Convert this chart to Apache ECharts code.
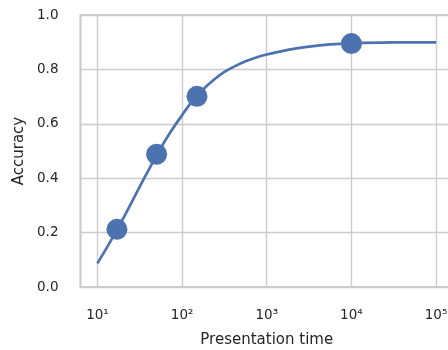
<!DOCTYPE html>
<html>
<head>
<meta charset="utf-8">
<script src="https://cdn.jsdelivr.net/npm/echarts@6/dist/echarts.min.js"></script>
<style>
html,body{margin:0;padding:0;background:#fff;}
#chart{width:448px;height:350px;}
</style>
</head>
<body>
<div id="chart"></div>
<script>
// Measured points
const timePoints = [17, 50, 150, 10000];
const accPoints = [0.212, 0.488, 0.701, 0.895];
// Fitted curve
const curveTime = [10, 13.34, 17.78, 23.71, 31.62, 42.17, 56.23, 74.99, 100, 133.4, 177.8, 237.1, 316.2, 421.7, 562.3, 749.9, 1000, 1778, 3162, 5623, 10000, 31623, 100000];
const curveAcc = [0.087, 0.152, 0.221, 0.294, 0.369, 0.442, 0.512, 0.575, 0.632, 0.685, 0.727, 0.762, 0.791, 0.812, 0.830, 0.844, 0.855, 0.872, 0.884, 0.892, 0.896, 0.899, 0.8995];
// Axis ticks
const yTicks = [0, 0.2, 0.4, 0.6, 0.8, 1.0];
const xTickExps = [1, 2, 3, 4, 5];
const xTitle = 'Presentation time';
const yTitle = 'Accuracy';

const sup = {'1':'\u00b9','2':'\u00b2','3':'\u00b3','4':'\u2074','5':'\u2075'};
const font = 'DejaVu Sans';
const color = '#4c72b0';
const textColor = '#262626';

const chart = echarts.init(document.getElementById('chart'), null, {renderer:'canvas'});
chart.setOption({
  animation: false,
  backgroundColor: '#ffffff',
  grid: {left: 80.5, width: 372.5, top: 15, bottom: 63, show: true, borderColor: '#cccccc', borderWidth: 2,
    containLabel: false, outerBoundsMode: 'none'},
  xAxis: {
    type: 'log', logBase: 10, min: 6.31, max: 158489,
    name: xTitle, nameLocation: 'middle', nameGap: 46,
    nameTextStyle: {fontFamily: font, fontSize: 15, color: textColor},
    axisLine: {show: false}, axisTick: {show: false},
    axisLabel: {
      fontFamily: font, fontSize: 13.5, color: textColor, margin: 21,
      showMinLabel: true, showMaxLabel: true,
      formatter: function (v) {
        const e = Math.round(Math.log10(v));
        if (Math.abs(Math.log10(v) - e) > 1e-6 || xTickExps.indexOf(e) < 0) return '';
        return '10' + sup[String(e)];
      }
    },
    splitLine: {show: true, lineStyle: {color: '#cccccc', width: 1.4}}
  },
  yAxis: {
    type: 'value', min: yTicks[0], max: yTicks[yTicks.length - 1], interval: 0.2,
    name: yTitle, nameLocation: 'middle', nameGap: 54,
    nameTextStyle: {fontFamily: font, fontSize: 15, color: textColor},
    axisLine: {show: false}, axisTick: {show: false},
    axisLabel: {fontFamily: font, fontSize: 13.5, color: textColor, margin: 22,
      formatter: function (v) { return v.toFixed(1); }},
    splitLine: {show: true, lineStyle: {color: '#cccccc', width: 1.4}}
  },
  series: [
    {
      type: 'line', data: curveTime.map((t, i) => [t, curveAcc[i]]),
      smooth: 0.3, showSymbol: false, symbol: 'none',
      lineStyle: {color: color, width: 2.7}, z: 2
    },
    {
      type: 'scatter', data: timePoints.map((t, i) => [t, accPoints[i]]),
      symbol: 'circle', symbolSize: 21,
      itemStyle: {color: color, opacity: 1}, z: 3
    }
  ]
});
</script>
</body>
</html>
